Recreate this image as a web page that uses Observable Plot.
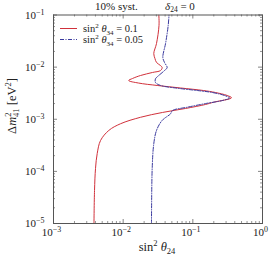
<!DOCTYPE html>
<html><head><meta charset="utf-8">
<script src="https://cdn.jsdelivr.net/npm/d3@7"></script>
<script src="https://cdn.jsdelivr.net/npm/@observablehq/plot@0.6"></script>
<style>body{margin:0;background:#fff}</style>
</head><body><div id="chart"></div>
<script>
// major tick values and labels
const xMajor = [1e-3, 1e-2, 1e-1, 1];
const xLabels = ["10^−3", "10^−2", "10^−1", "10^0"];
const yMajor = [1e-5, 1e-4, 1e-3, 1e-2, 1e-1];
const yLabels = ["10^−5", "10^−4", "10^−3", "10^−2", "10^−1"];
const minorMult = [2, 3, 4, 5, 6, 7, 8, 9];

// sin^2 theta34 = 0.1 (red, solid)
const redX = [0.00381, 0.00388, 0.00401, 0.00424, 0.00473, 0.00622, 0.00917, 0.0177, 0.0367, 0.0785, 0.152, 0.198, 0.359, 0.311, 0.211, 0.142, 0.0665, 0.0308, 0.0166, 0.0120, 0.0136, 0.0177, 0.0264, 0.0344, 0.0363, 0.0344, 0.0301, 0.0286, 0.0275, 0.0301, 0.0327, 0.0325];
const redY = [1e-5, 4.3e-5, 1.14e-4, 2.2e-4, 3.9e-4, 6.1e-4, 8.2e-4, 1.09e-3, 1.35e-3, 1.61e-3, 1.92e-3, 2.12e-3, 2.58e-3, 2.86e-3, 3.26e-3, 3.56e-3, 3.98e-3, 4.45e-3, 4.95e-3, 5.53e-3, 6.05e-3, 6.9e-3, 7.9e-3, 8.6e-3, 9.8e-3, 1.07e-2, 1.23e-2, 1.46e-2, 1.82e-2, 2.84e-2, 6.3e-2, 1e-1];

// sin^2 theta34 = 0.05 (blue, dash-dot)
const blueX = [0.0255, 0.0261, 0.0275, 0.0301, 0.0363, 0.0478, 0.0510, 0.083, 0.152, 0.267, 0.336, 0.284, 0.191, 0.116, 0.0563, 0.0344, 0.0291, 0.0291, 0.0324, 0.0392, 0.0428, 0.0392, 0.0371, 0.0406, 0.0443, 0.0455];
const blueY = [1e-5, 1.14e-4, 3.38e-4, 6.1e-4, 9.5e-4, 1.27e-3, 1.47e-3, 1.70e-3, 2.0e-3, 2.29e-3, 2.56e-3, 2.86e-3, 3.26e-3, 3.56e-3, 3.98e-3, 4.45e-3, 5.07e-3, 5.97e-3, 6.9e-3, 8.6e-3, 9.8e-3, 1.23e-2, 1.53e-2, 2.84e-2, 6.3e-2, 1e-1];

const red = redX.map((x, i) => ({x, y: redY[i]}));
const blue = blueX.map((x, i) => ({x, y: blueY[i]}));
const xMinor = xMajor.slice(0, -1).flatMap(d => minorMult.map(m => d * m));
const yMinor = yMajor.slice(0, -1).flatMap(d => minorMult.map(m => d * m));

const W = 270, H = 259, mL = 53, mR = 8, mT = 14.5, mB = 36;
const fH = H - mT - mB, fW = W - mL - mR;
const tickC = "#666";

const plot = Plot.plot({
  width: W, height: H,
  marginLeft: mL, marginRight: mR, marginTop: mT, marginBottom: mB,
  x: {type: "log", domain: [1e-3, 1], axis: null},
  y: {type: "log", domain: [1e-5, 1e-1], axis: null},
  style: {fontFamily: "Liberation Serif", background: "white", overflow: "visible"},
  marks: [
    // inward ticks on all four sides
    Plot.ruleX(xMinor, {x: d => d, insetTop: fH - 2, stroke: tickC, strokeWidth: 0.7}),
    Plot.ruleX(xMinor, {x: d => d, insetBottom: fH - 2, stroke: tickC, strokeWidth: 0.7}),
    Plot.ruleX(xMajor, {x: d => d, insetTop: fH - 4, stroke: tickC, strokeWidth: 0.8}),
    Plot.ruleX(xMajor, {x: d => d, insetBottom: fH - 4, stroke: tickC, strokeWidth: 0.8}),
    Plot.ruleY(yMinor, {y: d => d, insetRight: fW - 2, stroke: tickC, strokeWidth: 0.7}),
    Plot.ruleY(yMinor, {y: d => d, insetLeft: fW - 2, stroke: tickC, strokeWidth: 0.7}),
    Plot.ruleY(yMajor, {y: d => d, insetRight: fW - 4, stroke: tickC, strokeWidth: 0.8}),
    Plot.ruleY(yMajor, {y: d => d, insetLeft: fW - 4, stroke: tickC, strokeWidth: 0.8}),
    Plot.line(red, {x: "x", y: "y", stroke: "#d0313b", strokeWidth: 1, curve: "catmull-rom", clip: true}),
    Plot.line(blue, {x: "x", y: "y", stroke: "#3a3a9e", strokeWidth: 1, strokeDasharray: "4,1.5,1,1.5", curve: "catmull-rom", clip: true}),
    Plot.frame({stroke: "#555", strokeWidth: 1}),
    Plot.text(xMajor, {x: d => d, text: (d, i) => xLabels[i], frameAnchor: "bottom", dy: 12, dx: -2, fontSize: 11, fill: "#222"}),
    Plot.text(yMajor, {y: d => d, text: (d, i) => yLabels[i], frameAnchor: "left", textAnchor: "end", dx: -9, fontSize: 11, fill: "#222"})
  ]
});

// superscripts on tick labels
d3.select(plot).selectAll("text").each(function () {
  const t = this.textContent;
  if (t.includes("^")) {
    const [b, e] = t.split("^");
    this.textContent = b;
    d3.select(this).append("tspan").attr("dy", "-0.45em").attr("font-size", "0.72em").text(e);
  }
});

const svg = d3.select(plot);
const serif = "Liberation Serif";

// title
{
  svg.append("text").attr("x", 95).attr("y", 9.5).attr("text-anchor", "start")
    .attr("font-family", serif).attr("font-size", 11).attr("fill", "#222").text("10% syst.");
  const t = svg.append("text").attr("x", 165).attr("y", 9.5).attr("text-anchor", "start")
    .attr("font-family", serif).attr("font-size", 11).attr("fill", "#222");
  t.append("tspan").attr("font-style", "italic").text("δ");
  t.append("tspan").attr("font-size", 7.5).attr("dy", 2).text("24");
  t.append("tspan").attr("dy", -2).text(" = 0");
}

// x label
{
  const t = svg.append("text").attr("x", 157).attr("y", 251).attr("text-anchor", "middle")
    .attr("font-family", serif).attr("font-size", 12.5).attr("fill", "#222");
  t.append("tspan").text("sin");
  t.append("tspan").attr("font-size", 8.5).attr("dy", -5).text("2");
  t.append("tspan").attr("dy", 5).attr("font-style", "italic").text(" θ");
  t.append("tspan").attr("font-size", 8.5).attr("dy", 3).text("24");
}

// y label
{
  const t = svg.append("text").attr("transform", "translate(16,106) rotate(-90)").attr("text-anchor", "middle")
    .attr("font-family", serif).attr("font-size", 12.5).attr("fill", "#222");
  t.append("tspan").text("Δ");
  t.append("tspan").attr("font-style", "italic").text("m");
  t.append("tspan").attr("font-size", 8.5).attr("dy", -5).text("2");
  t.append("tspan").attr("font-size", 8.5).attr("dx", -4.3).attr("dy", 8).text("41");
  t.append("tspan").attr("dy", -3).text(" [eV");
  t.append("tspan").attr("font-size", 8.5).attr("dy", -5).text("2");
  t.append("tspan").attr("dy", 5).text("]");
}

// legend
const legend = [
  {label: "0.1", color: "#d0313b", dash: null, y: 28.5},
  {label: "0.05", color: "#3a3a9e", dash: "4,1.5,1,1.5", y: 39.5}
];
legend.forEach(l => {
  svg.append("line").attr("x1", 60).attr("x2", 77).attr("y1", l.y).attr("y2", l.y)
    .attr("stroke", l.color).attr("stroke-width", 1).attr("stroke-dasharray", l.dash);
  const t = svg.append("text").attr("x", 83).attr("y", l.y + 3.5).attr("text-anchor", "start")
    .attr("font-family", serif).attr("font-size", 10.5).attr("fill", "#222");
  t.append("tspan").text("sin");
  t.append("tspan").attr("font-size", 7).attr("dy", -4).text("2");
  t.append("tspan").attr("dy", 4).attr("font-style", "italic").text(" θ");
  t.append("tspan").attr("font-size", 7).attr("dy", 2.5).text("34");
  t.append("tspan").attr("dy", -2.5).text(" = " + l.label);
});

document.getElementById("chart").appendChild(plot);
</script></body></html>
